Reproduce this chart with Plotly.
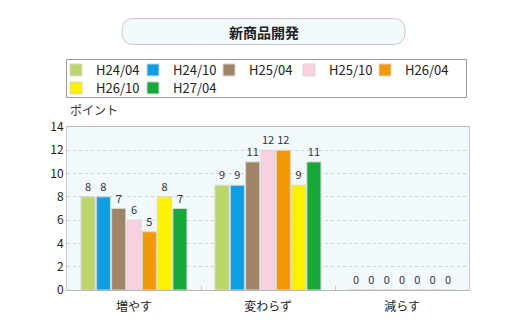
import plotly.graph_objects as go

# Survey answers for new product development, by survey period
categories = ["増やす", "変わらず", "減らす"]
periods = ["H24/04", "H24/10", "H25/04", "H25/10", "H26/04", "H26/10", "H27/04"]
colors = ["#bdd66b", "#0aa0e3", "#a08466", "#f8d0e0", "#f39800", "#fff100", "#17a83b"]
values = {
    "H24/04": [8, 9, 0],
    "H24/10": [8, 9, 0],
    "H25/04": [7, 11, 0],
    "H25/10": [6, 12, 0],
    "H26/04": [5, 12, 0],
    "H26/10": [8, 9, 0],
    "H27/04": [7, 11, 0],
}
y_ticks = [0, 2, 4, 6, 8, 10, 12, 14]

W, H = 520, 327
ML, MR, MT, MB = 67, 51, 127, 37
PW, PH = W - ML - MR, H - MT - MB
FONT = "Noto Sans CJK JP, Noto Sans, sans-serif"

# Legend entry layout (pixel position of each entry's label: x, row y)
legend_slots = [(96, 70), (173, 70), (249, 70), (329, 70), (405, 70), (96, 88), (173, 88)]


def px_x(x):
    return (x - ML) / PW


def px_y(y):
    return (H - MB - y) / PH


fig = go.Figure()
legend_layout = {}
for i, (p, c) in enumerate(zip(periods, colors)):
    key = "legend" if i == 0 else f"legend{i + 1}"
    fig.add_trace(go.Bar(
        name=p, x=categories, y=values[p],
        marker=dict(color=c, line=dict(color="#d6d6d6", width=1)),
        text=values[p], textposition="outside",
        textfont=dict(size=11, color="#333333", family=FONT),
        cliponaxis=False,
        legend=key,
    ))
    lx, ly = legend_slots[i]
    legend_layout[key] = dict(
        x=px_x(lx - 40), y=px_y(ly), xanchor="left", yanchor="middle",
        orientation="h", bgcolor="rgba(0,0,0,0)", borderwidth=0,
        font=dict(size=13, color="#222222", family=FONT),
        itemclick=False, itemdoubleclick=False,
    )

shapes = []
# Rounded title box
cx, cy, hw, hh, r = 263.5, 31.5, 141.5, 13, 12
path = (f"M{-hw + r},{-hh} L{hw - r},{-hh} Q{hw},{-hh} {hw},{-hh + r} "
        f"L{hw},{hh - r} Q{hw},{hh} {hw - r},{hh} L{-hw + r},{hh} "
        f"Q{-hw},{hh} {-hw},{hh - r} L{-hw},{-hh + r} Q{-hw},{-hh} {-hw + r},{-hh} Z")
shapes.append(dict(type="path", xref="paper", yref="paper",
                   xsizemode="pixel", ysizemode="pixel",
                   xanchor=px_x(cx), yanchor=px_y(cy), path=path,
                   fillcolor="#f3fafd", line=dict(color="#c4c8cc", width=1), layer="below"))
# Legend frame
shapes.append(dict(type="rect", xref="paper", yref="paper",
                   x0=px_x(66.5), x1=px_x(466.5), y0=px_y(59.5), y1=px_y(97.5),
                   fillcolor="white", line=dict(color="#999999", width=1), layer="below"))

annotations = [
    dict(text="<b>新商品開発</b>", x=px_x(cx), y=px_y(cy), xref="paper", yref="paper",
         showarrow=False, font=dict(size=14, color="#222222", family=FONT),
         xanchor="center", yanchor="middle"),
    dict(text="ポイント", x=px_x(68), y=px_y(110), xref="paper", yref="paper",
         showarrow=False, font=dict(size=12, color="#333333", family=FONT),
         xanchor="left", yanchor="middle"),
]

fig.update_layout(
    width=W, height=H,
    margin=dict(l=ML, r=MR, t=MT, b=MB),
    paper_bgcolor="white", plot_bgcolor="#f2f9fd",
    font=dict(family=FONT, color="#333333", size=12),
    barmode="group", bargap=0.2, bargroupgap=0.08,
    showlegend=True,
    shapes=shapes, annotations=annotations,
    xaxis=dict(
        showgrid=False, showline=True, linecolor="#b8b8b8", mirror=True,
        ticks="inside", tickson="boundaries", ticklen=4, tickcolor="#c8c8c8",
        tickfont=dict(size=12, color="#222222", family=FONT),
        ticklabelstandoff=6,
    ),
    yaxis=dict(
        range=[0, 14], tickvals=y_ticks, showline=True, linecolor="#c8c8c8", mirror=True,
        gridcolor="#cfcfcf", griddash="3px,3px", gridwidth=1, zeroline=False,
        tickfont=dict(size=12, color="#222222", family=FONT),
    ),
    **legend_layout,
)

fig.write_html("out.html")
